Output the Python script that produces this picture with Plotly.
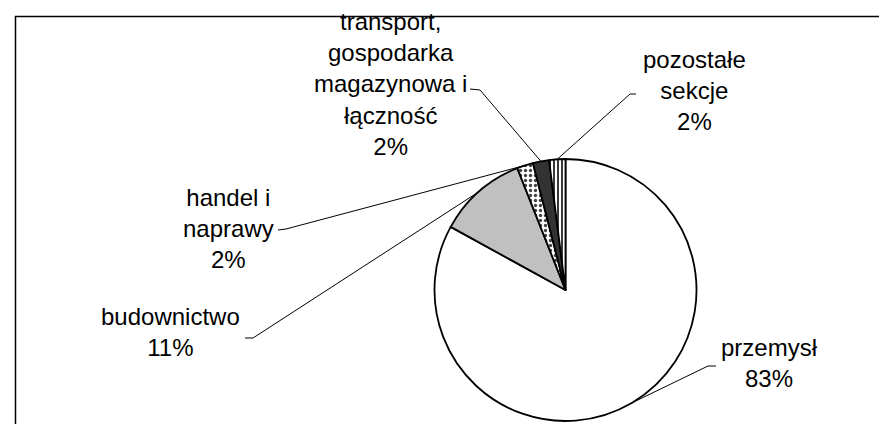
import math
import plotly.graph_objects as go

# ---- data ----
labels = ["przemysł", "budownictwo", "handel i naprawy",
          "transport, gospodarka magazynowa i łączność", "pozostałe sekcje"]
label_lines = ["przemysł", "budownictwo", "handel i<br>naprawy",
               "transport,<br>gospodarka<br>magazynowa i<br>łączność", "pozostałe<br>sekcje"]
values = [83, 11, 2, 2, 2]

# ---- layout constants (pixels) ----
W, H = 887, 424
CX, CY, R = 557.5, 282.0, 131.0
# text centre, start of leader (near text), elbow
text_pos = [(761, 355), (162, 324), (220, 220), (382, 76), (686, 82)]
lead_start = [(708, 358), (237, 330), (270, 222), (462, 81), (628, 86)]
lead_elbow = [(700, 358), (245, 330), (278, 221), (472, 82), (622, 86)]

def px(x):
    return x / W

def py(y):
    return 1 - y / H

colors = ["white", "#C0C0C0", "white", "#333333", "white"]
pattern_shapes = ["", "", ".", "", "|"]
pattern_fg = ["black", "black", "#444444", "black", "#222222"]
pattern_size = [8, 8, 5, 8, 4]
pattern_sol = [0.3, 0.3, 0.35, 0.3, 0.45]

fig = go.Figure(go.Pie(
    labels=labels, values=values, sort=False, direction="clockwise", rotation=0,
    textinfo="none", hoverinfo="label+percent",
    marker=dict(colors=colors, line=dict(color="black", width=1.8),
                pattern=dict(shape=pattern_shapes, fgcolor=pattern_fg, bgcolor=colors,
                             size=pattern_size, solidity=pattern_sol, fillmode="replace")),
    domain=dict(x=[px(CX - R), px(CX + R)], y=[py(CY + R), py(CY - R)]),
    showlegend=False,
))

total = sum(values)
cum = 0.0
shapes = []
annotations = []
for i, v in enumerate(values):
    mid = (cum + v / 2) / total * 360.0
    cum += v
    ex = CX + R * math.sin(math.radians(mid))
    ey = CY - R * math.cos(math.radians(mid))
    sx, sy = lead_start[i]
    bx, by = lead_elbow[i]
    path = f"M {px(sx)} {py(sy)} L {px(bx)} {py(by)} L {px(ex)} {py(ey)}"
    shapes.append(dict(type="path", xref="paper", yref="paper", path=path,
                       line=dict(color="black", width=1)))
    pct = round(v / total * 100)
    tx, ty = text_pos[i]
    annotations.append(dict(x=px(tx), y=py(ty), xref="paper", yref="paper",
                            text=f"{label_lines[i]}<br>{pct}%", showarrow=False,
                            xanchor="center", yanchor="middle", align="center",
                            font=dict(family="Liberation Sans, Arial", size=24, color="black")))

# frame
shapes.append(dict(type="rect", xref="paper", yref="paper",
                   x0=px(7.5), x1=1.05, y0=-0.05, y1=py(8.5),
                   line=dict(color="black", width=1.5), fillcolor="rgba(0,0,0,0)", layer="below"))

fig.update_layout(width=W, height=H, margin=dict(l=0, r=0, t=0, b=0),
                  paper_bgcolor="white", plot_bgcolor="white",
                  shapes=shapes, annotations=annotations)
fig.write_html("out.html")
